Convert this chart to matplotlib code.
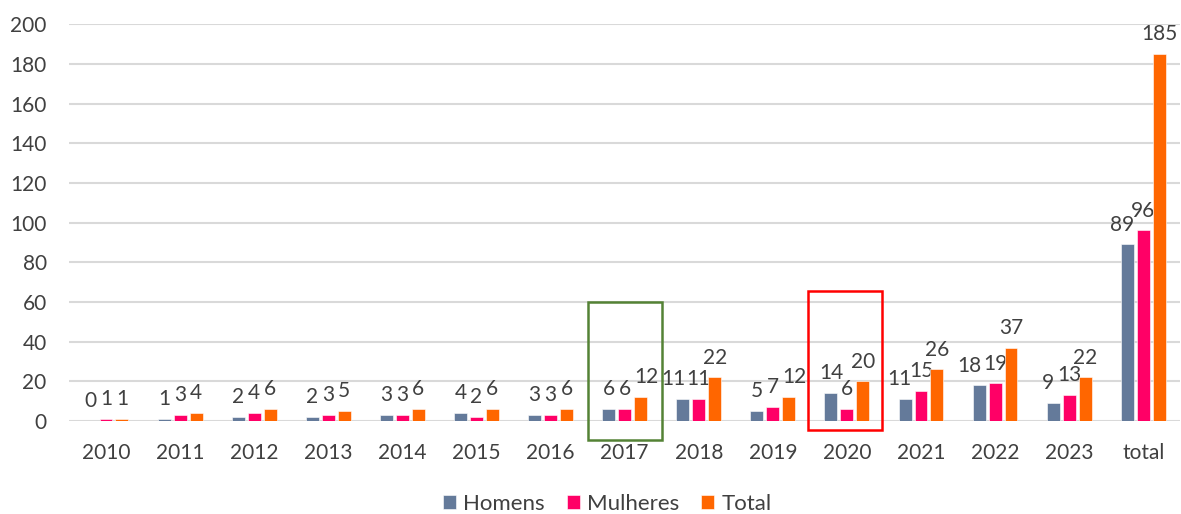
import matplotlib.pyplot as plt
import matplotlib.patches as patches
import numpy as np

anos = ['2010', '2011', '2012', '2013', '2014', '2015', '2016', '2017',
        '2018', '2019', '2020', '2021', '2022', '2023', 'total']
homens = [0, 1, 2, 2, 3, 4, 3, 6, 11, 5, 14, 11, 18, 9, 89]
mulheres = [1, 3, 4, 3, 3, 2, 3, 6, 11, 7, 6, 15, 19, 13, 96]
total = [1, 4, 6, 5, 6, 6, 6, 12, 22, 12, 20, 26, 37, 22, 185]

series = [('Homens', homens, '#647A9A'),
          ('Mulheres', mulheres, '#FF0066'),
          ('Total', total, '#FF6600')]

plt.rcParams['font.family'] = ['Lato', 'DejaVu Sans']
txt = '#404040'

fig = plt.figure(figsize=(11.81, 5.14), dpi=100)
ax = fig.add_axes([0.0584, 0.181, 0.941, 0.772])

x = np.arange(len(anos))
w = 0.175
step = 0.215


def nudge(i, j):
    # push neighbouring labels apart a little, the way Excel does
    h, m, t = homens[j], mulheres[j], total[j]
    n = len(str(h)) + len(str(m))
    if i == 0 and n >= 3 and abs(h - m) < 8:
        return -7 if n == 4 and abs(h - m) < 3 else -4
    if i == 2 and len(str(m)) + len(str(t)) >= 3 and abs(t - m) < 8:
        return 4
    return 0


for i, (nome, vals, cor) in enumerate(series):
    pos = x + (i - 1) * step
    bars = ax.bar(pos, vals, width=w, color=cor, label=nome, zorder=3,
                  edgecolor='white', linewidth=0.4)
    for j, (b, v) in enumerate(zip(bars, vals)):
        ax.annotate(str(v), (b.get_x() + b.get_width() / 2, v),
                    xytext=(nudge(i, j), 7), textcoords='offset points',
                    ha='center', va='bottom', fontsize=15, color=txt)

ax.set_xlim(-0.5, len(anos) - 0.5)
ax.set_ylim(0, 200)
ax.set_yticks(range(0, 201, 20))
ax.set_xticks(x)
ax.set_xticklabels(anos)
ax.tick_params(axis='both', length=0, labelsize=15, labelcolor=txt)
ax.tick_params(axis='x', pad=16)
ax.tick_params(axis='y', pad=16)
ax.grid(axis='y', color='#D9D9D9', linewidth=1.5, zorder=0)
for s in ax.spines.values():
    s.set_visible(False)

# destaques
ax.add_patch(patches.Rectangle((6.5, -9.6), 1.0, 69.6, fill=False,
                               edgecolor='#548235', linewidth=1.8,
                               clip_on=False, zorder=4))
ax.add_patch(patches.Rectangle((9.48, -4.5), 1.0, 70, fill=False,
                               edgecolor='#FF0000', linewidth=1.8,
                               clip_on=False, zorder=4))

leg = fig.legend(loc='lower center', bbox_to_anchor=(0.514, -0.038), ncol=3,
                 frameon=False, fontsize=16, handlelength=0.6,
                 handleheight=0.6, handletextpad=0.3, columnspacing=1.0)
for t in leg.get_texts():
    t.set_color(txt)

fig.savefig('out.png', dpi=100)
